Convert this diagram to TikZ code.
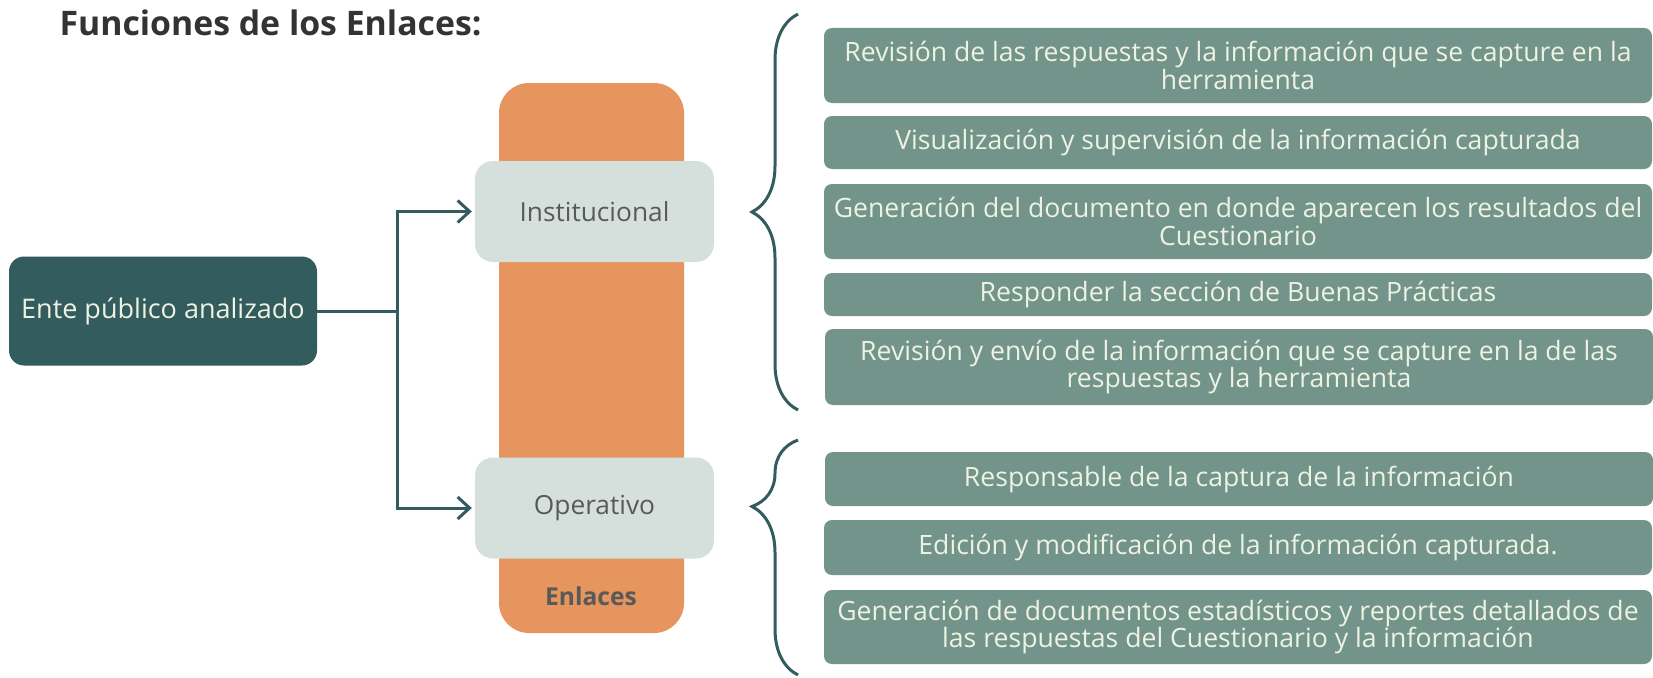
\documentclass[tikz,border=0pt]{standalone}
\usepackage{fontspec}
\setmainfont{Open Sans}
\usetikzlibrary{arrows.meta,decorations.pathreplacing,positioning}
\definecolor{verdeosc}{HTML}{335C5F}
\definecolor{verdegris}{HTML}{72948A}
\definecolor{naranja}{HTML}{E6955F}
\definecolor{grisclaro}{HTML}{D5E0DC}
\definecolor{crema}{HTML}{EEF2E2}
\definecolor{textogris}{HTML}{595959}
\definecolor{titulo}{HTML}{333333}
\tikzset{
  funcion/.style={fill=verdegris,rounded corners=8pt,text=crema,align=center,minimum width=828pt,inner sep=0pt,font=\fontsize{26.6}{27.5}\selectfont},
  nivel/.style={fill=grisclaro,rounded corners=18pt,text=textogris,minimum width=239pt,minimum height=101pt,font=\fontsize{26.3}{30}\selectfont},
  conector/.style={verdeosc,line width=3pt,shorten >=3pt,-{Straight Barb[length=12pt,width=22pt,line width=3pt]}},
  llave/.style={verdeosc,line width=3pt,decorate,decoration={brace,amplitude=46pt}}
}
\begin{document}
\begin{tikzpicture}[x=1pt,y=-1pt]
\useasboundingbox (0,0) rectangle (1653,677);
\node[anchor=west,text=titulo,font=\bfseries\fontsize{33.8}{34}\selectfont] (tit) at (56,23) {Funciones de los Enlaces:};
\node[fill=verdeosc,rounded corners=15pt,text=crema,minimum width=308pt,minimum height=109pt,font=\fontsize{27}{30}\selectfont] (ente) at (163,311) {Ente público analizado};
% columna de enlaces
\node[fill=naranja,rounded corners=30pt,minimum width=185pt,minimum height=550pt] (col) at (591.5,358) {};
\node[text=textogris,font=\bfseries\fontsize{24.6}{25}\selectfont] (enl) at (591,596) {Enlaces};
\node[nivel] (inst) at (594.5,211.5) {Institucional};
\node[nivel] (oper) at (594.5,508) {Operativo};
\coordinate (rama) at (397,311);
\draw[conector] (ente.east) -- (rama) |- (inst.west);
\draw[conector] (rama) |- (oper.west);
% llaves
\draw[llave] (798,410) -- (798,14);
\draw[llave,decoration={brace,amplitude=46pt,aspect=0.717}] (798,675) -- (798,440);
% funciones
\node[funcion,minimum height=75pt] (f1) at (1238,65.5) {Revisión de las respuestas y la información que se capture en la\\herramienta};
\node[funcion,minimum height=53pt] (f2) at (1238,142.5) {Visualización y supervisión de la información capturada};
\node[funcion,minimum height=75pt] (f3) at (1238,221.5) {Generación del documento en donde aparecen los resultados del\\Cuestionario};
\node[funcion,minimum height=43pt] (f4) at (1238,294.5) {Responder la sección de Buenas Prácticas};
\node[funcion,minimum height=76pt] (f5) at (1239,367) {Revisión y envío de la información que se capture en la de las\\respuestas y la herramienta};
\node[funcion,minimum height=54pt] (f6) at (1239,479) {Responsable de la captura de la información};
\node[funcion,minimum height=55pt] (f7) at (1238,547.5) {Edición y modificación de la información capturada.};
\node[funcion,minimum height=74pt] (f8) at (1238,627) {Generación de documentos estadísticos y reportes detallados de\\las respuestas del Cuestionario y la información};
\end{tikzpicture}
\end{document}
